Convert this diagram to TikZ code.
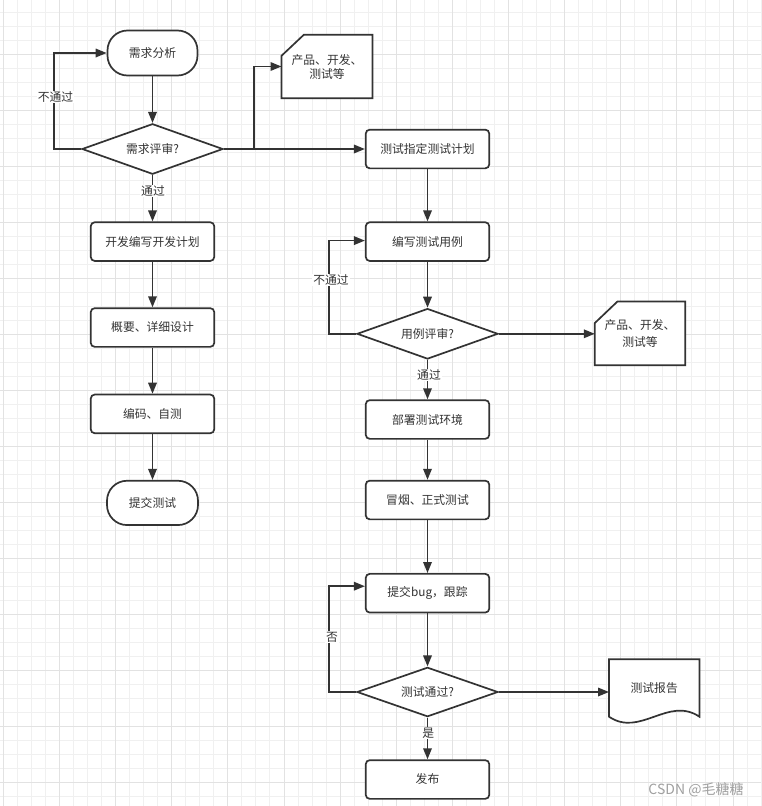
\documentclass[tikz,border=0pt]{standalone}
\usepackage{fontspec}
\setmainfont{Noto Sans CJK SC}
\usetikzlibrary{shapes.geometric,arrows.meta,calc,backgrounds}
\definecolor{ink}{HTML}{333333}
\definecolor{gridminor}{HTML}{F0F0F0}
\definecolor{gridmajor}{HTML}{E2E2E2}
\definecolor{wmark}{HTML}{A0A0A0}
\begin{document}
\begin{tikzpicture}[x=1pt,y=-1pt,
  every node/.style={font=\fontsize{11.8}{14}\selectfont, text=ink},
  shp/.style={draw=ink, line width=1.7pt, fill=white, inner sep=0pt},
  proc/.style={shp, rectangle, rounded corners=4pt, minimum width=123.5pt, minimum height=38.7pt},
  term/.style={shp, rectangle, rounded corners=20pt, minimum width=90pt, minimum height=45pt},
  dec/.style={shp, diamond, shape aspect=2.8, minimum width=141pt, minimum height=50.5pt},
  flow/.style={draw=ink, line width=1.7pt},
  arr/.style={flow, -{Triangle[length=11pt,width=8.5pt]}},
  lbl/.style={fill=white, inner sep=1pt},
  plain/.style={inner sep=0pt, align=center},
]
\useasboundingbox (0,0) rectangle (761,806);
\begin{pgfonlayer}{background}
  \fill[white] (0,0) rectangle (761,806);
  \foreach \k in {0,...,54} {
    \pgfmathsetmacro\xx{3.3+14.035*\k}
    \draw[gridminor, line width=1pt] (\xx,0) -- (\xx,806);
  }
  \foreach \k in {0,...,57} {
    \pgfmathsetmacro\yy{-1.3+14*\k}
    \draw[gridminor, line width=1pt] (0,\yy) -- (761,\yy);
  }
  \foreach \k in {0,4,...,52} {
    \pgfmathsetmacro\xx{3.3+14.035*\k}
    \draw[gridmajor, line width=1pt] (\xx,0) -- (\xx,806);
  }
  \foreach \k in {0,...,14} {
    \pgfmathsetmacro\yy{-1.3+56*\k}
    \draw[gridmajor, line width=1pt] (0,\yy) -- (761,\yy);
  }
\end{pgfonlayer}

% left column
\node[term] (t1) at (152.5,53) {需求分析};
\node[dec]  (d1) at (152.5,149) {需求评审?};
\node[proc] (b1) at (152.5,241.6) {开发编写开发计划};
\node[proc] (b2) at (152.5,327.5) {概要、详细设计};
\node[proc] (b3) at (152.5,413.9) {编码、自测};
\node[term, minimum width=91pt, minimum height=44.3pt] (t2) at (152.5,502.9) {提交测试};

% right column
\node[proc] (p1) at (427.5,149) {测试指定测试计划};
\node[proc] (p2) at (427.5,241.6) {编写测试用例};
\node[dec]  (d2) at (427.5,333.8) {用例评审?};
\node[proc] (p3) at (427.5,419.5) {部署测试环境};
\node[proc] (p4) at (427.5,500) {冒烟、正式测试};
\node[proc] (p5) at (427.5,593.2) {提交bug，跟踪};
\node[dec, minimum height=49.4pt] (d3) at (427.5,692) {测试通过?};
\node[proc] (p6) at (427.5,779.5) {发布};

% cards and document
\node[plain, minimum width=90.6pt, minimum height=63pt] (c1) at (327,66.5) {产品、开发、\\测试等};
\node[plain, minimum width=90pt, minimum height=63.3pt, font=\fontsize{11.8}{16.5}\selectfont] (c2) at (640,333.3) {产品、开发、\\测试等};
\node[plain, minimum width=90pt, minimum height=57pt] (doc) at (654.2,688) {测试报告};

\begin{pgfonlayer}{background}
  \draw[flow, fill=white, line join=miter] ($(c1.north west)+(22.3,0)$) -- (c1.north east) -- (c1.south east) -- (c1.south west) -- ($(c1.north west)+(0,21)$) -- cycle;
  \draw[flow, fill=white, line join=miter] ($(c2.north west)+(22.7,0)$) -- (c2.north east) -- (c2.south east) -- (c2.south west) -- ($(c2.north west)+(0,21.6)$) -- cycle;
  \draw[flow, fill=white, line join=miter] (doc.south east) -- (doc.north east) -- (doc.north west) -- (doc.south west)
     .. controls ($(doc.south west)+(31,21)$) and ($(doc.south east)+(-31,-21)$) .. (doc.south east) -- cycle;
\end{pgfonlayer}

% connectors left
\draw[arr] (t1) -- (d1);
\draw[arr] (d1) -- (b1);
\draw[arr] (b1) -- (b2);
\draw[arr] (b2) -- (b3);
\draw[arr] (b3) -- (t2);
\draw[arr] (d1.west) -| ([xshift=-52.5pt]t1.west) -- (t1.west);
\draw[arr] (d1.east) -- ++(30.3,0) |- (c1.west);
\draw[arr] (d1.east) -- (d1.east -| p1.west);

% connectors right
\draw[arr] (p1) -- (p2);
\draw[arr] (p2) -- (d2);
\draw[arr] (d2) -- (p3);
\draw[arr] (p3) -- (p4);
\draw[arr] (p4) -- (p5);
\draw[arr] (p5) -- (d3);
\draw[arr] (d3) -- (p6);
\draw[arr] (d2.west) -| ([xshift=-35.7pt,yshift=1pt]p2.west) -- ([yshift=1pt]p2.west);
\draw[arr] (d2.east) -- (d2.east -| c2.west);
\draw[arr] (d3.west) -| ([xshift=-36pt,yshift=7pt]p5.west) -- ([yshift=7pt]p5.west);
\draw[arr] (d3.east) -- (d3.east -| doc.west);

% labels
\node[lbl] (l1) at (55.5,97) {不通过};
\node[lbl] (l2) at (153,191) {通过};
\node[lbl] (l3) at (331,280) {不通过};
\node[lbl] (l4) at (429,375) {通过};
\node[lbl] (l5) at (332,637) {否};
\node[lbl] (l6) at (428.3,733) {是};

\node[font=\fontsize{14}{16}\selectfont, text=wmark, inner sep=0pt] (wm) at (696,790) {CSDN @毛糖糖};
\end{tikzpicture}
\end{document}
